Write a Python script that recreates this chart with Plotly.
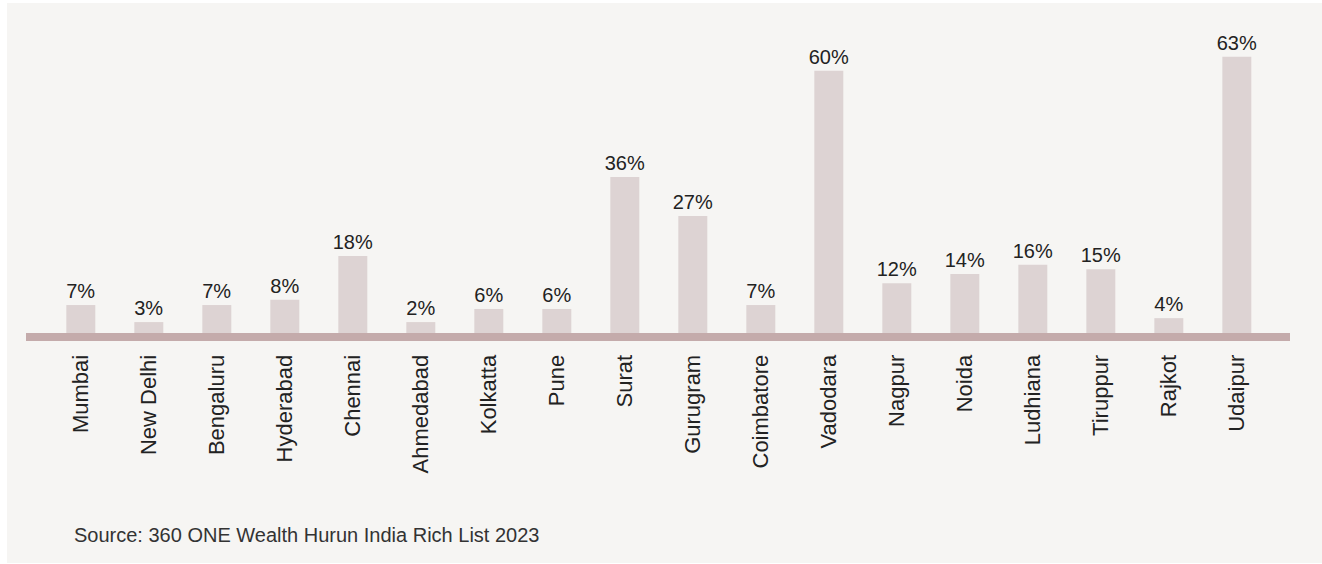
import plotly.graph_objects as go

cities = ["Mumbai", "New Delhi", "Bengaluru", "Hyderabad", "Chennai", "Ahmedabad",
          "Kolkatta", "Pune", "Surat", "Gurugram", "Coimbatore", "Vadodara",
          "Nagpur", "Noida", "Ludhiana", "Tiruppur", "Rajkot", "Udaipur"]
values = [6.4, 2.5, 6.4, 7.6, 17.6, 2.5, 5.5, 5.5, 35.7, 26.8, 6.4, 60.0,
          11.4, 13.5, 15.6, 14.6, 3.4, 63.2]
labels = ["7%", "3%", "7%", "8%", "18%", "2%", "6%", "6%", "36%", "27%", "7%", "60%",
          "12%", "14%", "16%", "15%", "4%", "63%"]
source_text = "Source: 360 ONE Wealth Hurun India Rich List 2023"

W, H = 1322, 564
ML, MR, MT, MB = 26, 32, 20, 231
plot_w = W - ML - MR
plot_h = H - MT - MB

def px_x(p):
    return (p - ML) / plot_w

def px_y(p):
    return (H - MB - p) / plot_h

FONT = "Liberation Sans, Arial, sans-serif"

fig = go.Figure(go.Bar(
    x=cities, y=values, text=labels, textposition="outside", constraintext="none",
    textfont=dict(size=20, color="#222222", family=FONT),
    marker=dict(color="#ddd3d3", line=dict(width=0)),
    width=0.426, cliponaxis=False, hoverinfo="skip",
))

fig.update_layout(
    width=W, height=H,
    margin=dict(l=ML, r=MR, t=MT, b=MB),
    paper_bgcolor="#ffffff", plot_bgcolor="rgba(0,0,0,0)",
    showlegend=False,
    font=dict(family=FONT, color="#222222"),
    uniformtext=dict(mode=False),
    xaxis=dict(range=[-0.806, 17.782], showline=True, linecolor="#c4abab", linewidth=8,
               ticks="", tickangle=-90, ticklabelstandoff=5,
               tickfont=dict(size=22, color="#222222", family=FONT),
               showgrid=False, zeroline=False, fixedrange=True),
    yaxis=dict(range=[0, plot_h / 4.37], visible=False, showgrid=False, zeroline=False,
               fixedrange=True),
    shapes=[dict(type="rect", xref="paper", yref="paper", layer="below",
                 x0=px_x(7), x1=px_x(1322), y0=px_y(563), y1=px_y(3),
                 fillcolor="#f6f5f3", line=dict(width=0))],
    annotations=[dict(text=source_text, xref="paper", yref="paper", x=px_x(72), y=px_y(535),
                      xanchor="left", yanchor="middle", showarrow=False,
                      font=dict(size=20, color="#333333", family=FONT))],
)

fig.write_html("out.html")
